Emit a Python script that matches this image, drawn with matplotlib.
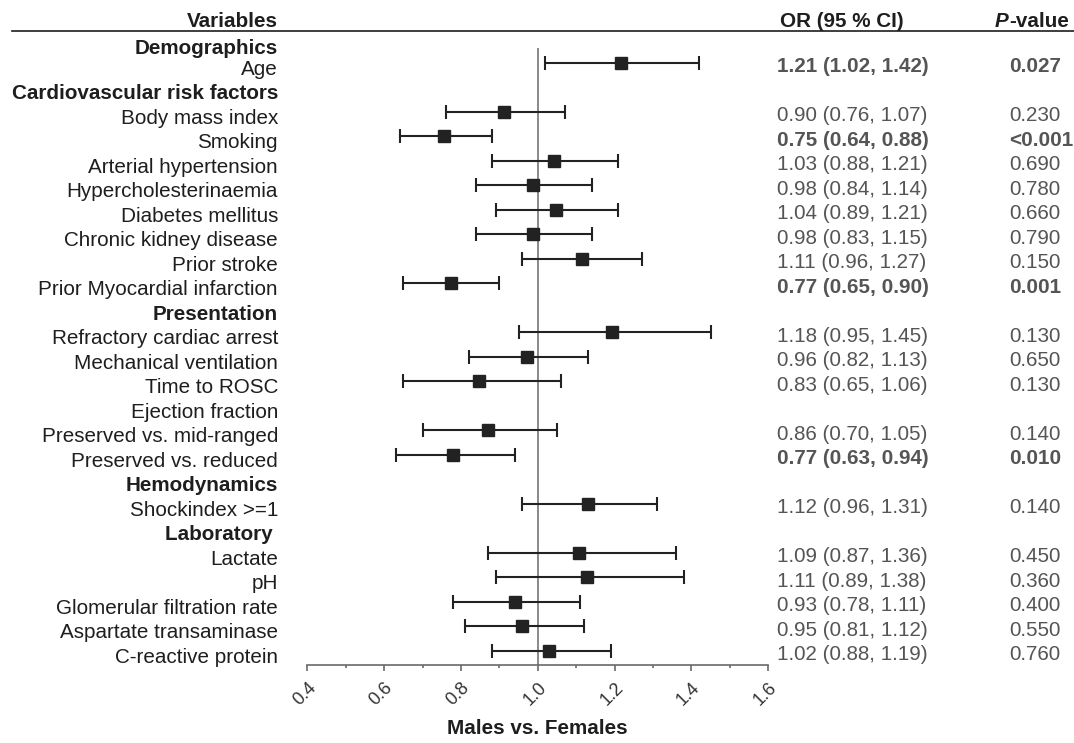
import numpy as np
import matplotlib
matplotlib.use('Agg')
import matplotlib.pyplot as plt
from matplotlib import transforms
from matplotlib.lines import Line2D
from matplotlib.ticker import MultipleLocator

plt.rcParams['font.family'] = ['Liberation Sans', 'DejaVu Sans']

# rows of the table, top to bottom (headers have no estimate)
variables = ['Demographics', 'Age', 'Cardiovascular risk factors', 'Body mass index', 'Smoking',
             'Arterial hypertension', 'Hypercholesterinaemia', 'Diabetes mellitus',
             'Chronic kidney disease', 'Prior stroke', 'Prior Myocardial infarction',
             'Presentation', 'Refractory cardiac arrest', 'Mechanical ventilation', 'Time to ROSC',
             'Ejection fraction', 'Preserved vs. mid-ranged', 'Preserved vs. reduced',
             'Hemodynamics', 'Shockindex >=1', 'Laboratory ', 'Lactate', 'pH',
             'Glomerular filtration rate', 'Aspartate transaminase', 'C-reactive protein']
is_header = [True, False, True, False, False, False, False, False, False, False, False,
             True, False, False, False, False, False, False, True, False, True,
             False, False, False, False, False]

nan = np.nan
or_est = [nan, 1.217, nan, 0.911, 0.757, 1.041, 0.987, 1.047, 0.987, 1.114, 0.773,
          nan, 1.194, 0.971, 0.847, nan, 0.870, 0.780, nan, 1.131, nan,
          1.108, 1.128, 0.940, 0.960, 1.030]
ci_low = [nan, 1.02, nan, 0.76, 0.64, 0.88, 0.84, 0.89, 0.84, 0.96, 0.65,
          nan, 0.95, 0.82, 0.65, nan, 0.70, 0.63, nan, 0.96, nan,
          0.87, 0.89, 0.78, 0.81, 0.88]
ci_high = [nan, 1.42, nan, 1.07, 0.88, 1.21, 1.14, 1.21, 1.14, 1.27, 0.90,
           nan, 1.45, 1.13, 1.06, nan, 1.05, 0.94, nan, 1.31, nan,
           1.36, 1.38, 1.11, 1.12, 1.19]

or_text = ['', '1.21 (1.02, 1.42)', '', '0.90 (0.76, 1.07)', '0.75 (0.64, 0.88)',
           '1.03 (0.88, 1.21)', '0.98 (0.84, 1.14)', '1.04 (0.89, 1.21)', '0.98 (0.83, 1.15)',
           '1.11 (0.96, 1.27)', '0.77 (0.65, 0.90)', '', '1.18 (0.95, 1.45)',
           '0.96 (0.82, 1.13)', '0.83 (0.65, 1.06)', '', '0.86 (0.70, 1.05)',
           '0.77 (0.63, 0.94)', '', '1.12 (0.96, 1.31)', '', '1.09 (0.87, 1.36)',
           '1.11 (0.89, 1.38)', '0.93 (0.78, 1.11)', '0.95 (0.81, 1.12)', '1.02 (0.88, 1.19)']
p_text = ['', '0.027', '', '0.230', '<0.001', '0.690', '0.780', '0.660', '0.790', '0.150',
          '0.001', '', '0.130', '0.650', '0.130', '', '0.140', '0.010', '', '0.140', '',
          '0.450', '0.360', '0.400', '0.550', '0.760']
significant = [False, True, False, False, True, False, False, False, False, False, True,
               False, False, False, False, False, False, True, False, False, False,
               False, False, False, False, False]

xticks = [0.4, 0.6, 0.8, 1.0, 1.2, 1.4, 1.6]
xtick_labels = ['0.4', '0.6', '0.8', '1.0', '1.2', '1.4', '1.6']

# row positions: first header sits closer to Age
rows = np.arange(len(variables)) - 1.0
rows[0] = -0.84

W, H = 1074, 743
fig = plt.figure(figsize=(W / 100, H / 100), dpi=100)
ax = fig.add_axes([307.3 / W, 1 - 665 / H, 461 / W, (665 - 30) / H])

dark = '#1e1e1e'
grey = '#555555'
fs = 14.85

est = np.array(or_est)
lo = np.array(ci_low)
hi = np.array(ci_high)
m = ~np.isnan(est)
ax.errorbar(est[m], rows[m], xerr=[est[m] - lo[m], hi[m] - est[m]], fmt='s',
            color='#222222', ms=9, capsize=5, elinewidth=1.5, capthick=1.5, zorder=3)

ax.vlines(1.0, -0.59, 24.58, color='#808080', lw=1.3, zorder=1)

ax.set_xlim(0.4, 1.6)
ax.set_ylim(24.58, -1.335)
for s in ['left', 'top', 'right']:
    ax.spines[s].set_visible(False)
ax.spines['bottom'].set_color('#6a6a6a')
ax.spines['bottom'].set_linewidth(1.2)
ax.set_yticks([])
ax.set_xticks(xticks)
ax.xaxis.set_minor_locator(MultipleLocator(0.1))
ax.set_xticklabels(xtick_labels, rotation=45, ha='right', va='top',
                   rotation_mode='anchor', fontsize=13, color='#333333')
ax.tick_params(axis='x', which='major', length=4, width=1.2, color='#6a6a6a', pad=6)
ax.tick_params(axis='x', which='minor', length=2.5, width=1.2, color='#6a6a6a')

trans = transforms.blended_transform_factory(fig.transFigure, ax.transData)
for i, name in enumerate(variables):
    ax.text(278 / W, rows[i] + 0.49, name, transform=trans, ha='right', va='baseline',
            fontsize=fs, color=dark, fontweight='bold' if is_header[i] else 'normal')
    if or_text[i]:
        wt = 'bold' if significant[i] else 'normal'
        ax.text(777 / W, rows[i] + 0.39, or_text[i], transform=trans, ha='left',
                va='baseline', fontsize=fs, color=grey, fontweight=wt)
        ax.text(1009 / W, rows[i] + 0.39, p_text[i], transform=trans, ha='left',
                va='baseline', fontsize=fs, color=grey, fontweight=wt)

# header row
hy = 1 - 27 / H
fig.text(278 / W, hy, 'Variables', ha='right', va='baseline', fontsize=fs,
         fontweight='bold', color=dark)
fig.text(780 / W, hy, 'OR (95 % CI)', ha='left', va='baseline', fontsize=fs,
         fontweight='bold', color=dark)
ptxt = fig.text(995 / W, hy, 'P', ha='left', va='baseline', fontsize=fs,
                fontweight='bold', fontstyle='italic', color=dark)
ax.annotate('-value', xy=(1, 0), xycoords=ptxt, ha='left', va='bottom',
            fontsize=fs, fontweight='bold', color=dark, annotation_clip=False)
fig.add_artist(Line2D([12 / W, 1], [1 - 31 / H, 1 - 31 / H], color=dark, lw=1.2))

fig.text(537 / W, 1 - 729 / H, 'Males vs. Females', ha='center', va='center',
         fontsize=fs, fontweight='bold', color=dark)

fig.savefig('out.png', dpi=100)
